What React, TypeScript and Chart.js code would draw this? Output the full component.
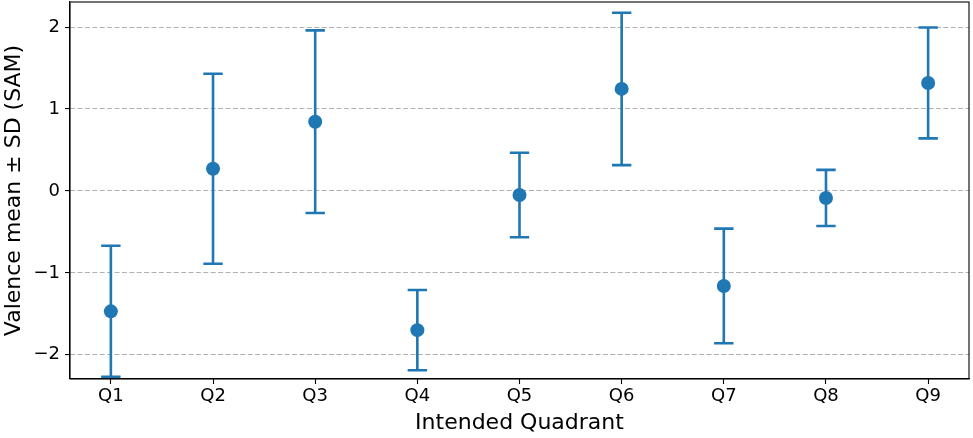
import React, { useEffect, useRef } from "react";
import { Chart, registerables } from "chart.js";

Chart.register(...registerables);

const categories = ["Q1", "Q2", "Q3", "Q4", "Q5", "Q6", "Q7", "Q8", "Q9"];
const means = [-1.47, 0.27, 0.845, -1.70, -0.05, 1.245, -1.16, -0.086, 1.318];
const sds = [0.80, 1.16, 1.115, 0.49, 0.515, 0.93, 0.70, 0.343, 0.677];
const yTicks = [-2, -1, 0, 1, 2];

const BLUE = "#1f77b4";
const FONT = "'DejaVu Sans', sans-serif";

const errorBarPlugin = {
  id: "errorBars",
  beforeDatasetsDraw(chart: any) {
    const ctx = chart.ctx;
    const xs = chart.scales.x;
    const ys = chart.scales.y;
    ctx.save();
    ctx.strokeStyle = BLUE;
    ctx.lineWidth = 2.6;
    ctx.lineCap = "butt";
    means.forEach((m, i) => {
      const x = xs.getPixelForValue(i);
      const yTop = ys.getPixelForValue(m + sds[i]);
      const yBot = ys.getPixelForValue(m - sds[i]);
      const cap = 9.7;
      ctx.beginPath();
      ctx.moveTo(x, yTop);
      ctx.lineTo(x, yBot);
      ctx.moveTo(x - cap, yTop);
      ctx.lineTo(x + cap, yTop);
      ctx.moveTo(x - cap, yBot);
      ctx.lineTo(x + cap, yBot);
      ctx.stroke();
    });
    ctx.restore();
  },
};

const framePlugin = {
  id: "frame",
  afterDraw(chart: any) {
    const { left, right, top, bottom } = chart.chartArea;
    const ctx = chart.ctx;
    ctx.save();
    ctx.strokeStyle = "#000";
    ctx.lineWidth = 1.1;
    ctx.strokeRect(left, top, right - left, bottom - top);
    ctx.restore();
  },
};

export default function App() {
  const ref = useRef<HTMLCanvasElement | null>(null);

  useEffect(() => {
    if (!ref.current) return;
    const chart = new Chart(ref.current, {
      type: "scatter",
      data: {
        datasets: [
          {
            data: means.map((m, i) => ({ x: i, y: m })),
            backgroundColor: BLUE,
            borderColor: BLUE,
            pointRadius: 7,
            pointHoverRadius: 7,
            borderWidth: 0,
          },
        ],
      },
      options: {
        animation: false,
        responsive: false,
        maintainAspectRatio: false,
        events: [],
        layout: { autoPadding: false, padding: { left: 0, right: 4, top: 2, bottom: 0 } },
        plugins: {
          legend: { display: false },
          tooltip: { enabled: false },
        },
        scales: {
          x: {
            type: "linear",
            min: -0.4,
            max: 8.4,
            afterFit: (s: any) => {
              s.height = 59;
              s.paddingLeft = 0;
              s.paddingRight = 0;
            },
            afterBuildTicks: (s: any) => {
              s.ticks = categories.map((_, i) => ({ value: i }));
            },
            ticks: {
              includeBounds: false,
              autoSkip: false,
              maxRotation: 0,
              padding: 2,
              color: "#000",
              font: { family: FONT, size: 18 },
              callback: (v: any) => categories[Math.round(Number(v))] ?? "",
            },
            grid: {
              drawOnChartArea: false,
              drawTicks: true,
              tickLength: 5,
              tickColor: "#000",
              tickWidth: 1.1,
            },
            border: { display: true, color: "#000", width: 1.1 },
            title: {
              display: true,
              text: "Intended Quadrant",
              color: "#000",
              font: { family: FONT, size: 22 },
              padding: { top: 0, bottom: 2 },
            },
          },
          y: {
            type: "linear",
            min: -2.296,
            max: 2.306,
            afterFit: (s: any) => {
              s.width = 70;
              s.paddingTop = 0;
              s.paddingBottom = 0;
            },
            afterBuildTicks: (s: any) => {
              s.ticks = yTicks.map((v) => ({ value: v }));
            },
            ticks: {
              includeBounds: false,
              padding: 5,
              color: "#000",
              font: { family: FONT, size: 18 },
              callback: (v: any) => {
                const n = Number(v);
                return n < 0 ? "\u2212" + Math.abs(n) : String(n);
              },
            },
            grid: {
              color: "#b0b0b0",
              lineWidth: 1.1,
              drawTicks: true,
              tickLength: 5,
              tickColor: "#000",
              tickWidth: 1.1,
              tickBorderDash: [],
            },
            border: { display: true, color: "#000", width: 1.1, dash: [5, 2.4] },
            title: {
              display: true,
              text: "Valence mean ± SD (SAM)",
              color: "#000",
              font: { family: FONT, size: 22 },
              padding: { top: 1, bottom: 0 },
            },
          },
        },
      },
      plugins: [errorBarPlugin, framePlugin],
    } as any);
    return () => chart.destroy();
  }, []);

  return (
    <div style={{ position: "fixed", left: 0, top: 0, width: 973, height: 438, background: "#fff" }}>
      <canvas ref={ref} width={973} height={438} style={{ width: 973, height: 438 }} />
    </div>
  );
}
